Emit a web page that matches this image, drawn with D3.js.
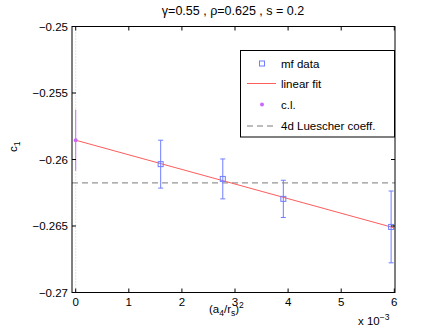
<!DOCTYPE html>
<html>
<head>
<meta charset="utf-8">
<script src="https://cdn.jsdelivr.net/npm/d3@7"></script>
<style>
body { margin: 0; background: #fff; }
text { font-family: "Liberation Sans", Arial, sans-serif; fill: #000; }
</style>
</head>
<body>
<svg id="chart" width="436" height="330"></svg>
<script>
// data
var mfX = [1.60e-3, 2.77e-3, 3.91e-3, 5.94e-3];
var mfY = [-0.26035, -0.26146, -0.26296, -0.26507];
var mfErr = [0.0018, 0.0015, 0.0014, 0.0027];
var clX = [0];
var clY = [-0.25855];
var clErr = [0.0023];
var fitX = [0, 6e-3];
var fitY = [-0.25855, -0.26514];
var luescher = -0.26176;
var xTicks = [0, 1e-3, 2e-3, 3e-3, 4e-3, 5e-3, 6e-3];
var yTicks = [-0.25, -0.255, -0.26, -0.265, -0.27];
var legendLabels = ["mf data", "linear fit", "c.l.", "4d Luescher coeff."];

var svg = d3.select("#chart");
var pL = 72, pR = 395, pT = 26.5, pB = 292.5;

var x = d3.scaleLinear().domain([-0.07e-3, 6e-3]).range([pL, pR - 0.7]);
var y = d3.scaleLinear().domain([-0.27, -0.25]).range([pB, pT]);

var blue = "#6f7dff", redCol = "#ff5c5c", mag = "#cc66ff", grey = "#7a7a7a";

// dotted zero line
svg.append("line")
  .attr("x1", x(0)).attr("x2", x(0)).attr("y1", pT).attr("y2", pB)
  .attr("stroke", "#c8c8c8").attr("stroke-width", 1).attr("stroke-dasharray", "1,2");

// dashed Luescher line
svg.append("line")
  .attr("x1", pL).attr("x2", pR).attr("y1", y(luescher)).attr("y2", y(luescher))
  .attr("stroke", grey).attr("stroke-width", 1).attr("stroke-dasharray", "6,4");

// fit line
var line = d3.line().x(function(d) { return x(d[0]); }).y(function(d) { return y(d[1]); });
svg.append("path")
  .attr("d", line(d3.zip(fitX, fitY)))
  .attr("stroke", redCol).attr("fill", "none").attr("stroke-width", 1);

function errorBars(xs, ys, es, col, w) {
  var g = svg.append("g").attr("stroke", col).attr("stroke-width", 1).attr("fill", "none");
  for (var i = 0; i < xs.length; i++) {
    var cx = x(xs[i]), t = y(ys[i] + es[i]), b = y(ys[i] - es[i]);
    g.append("line").attr("x1", cx).attr("x2", cx).attr("y1", t).attr("y2", b);
    if (w > 0) {
      g.append("line").attr("x1", cx - w).attr("x2", cx + w).attr("y1", t).attr("y2", t);
      g.append("line").attr("x1", cx - w).attr("x2", cx + w).attr("y1", b).attr("y2", b);
    }
  }
}
errorBars(mfX, mfY, mfErr, blue, 2.5);
errorBars(clX, clY, clErr, mag, 0);

// markers
svg.selectAll(".mf").data(d3.zip(mfX, mfY)).enter().append("rect")
  .attr("x", function(d) { return x(d[0]) - 2.5; })
  .attr("y", function(d) { return y(d[1]) - 2.5; })
  .attr("width", 5).attr("height", 5)
  .attr("fill", "none").attr("stroke", blue).attr("stroke-width", 1);

svg.selectAll(".cl").data(d3.zip(clX, clY)).enter().append("circle")
  .attr("cx", function(d) { return x(d[0]); })
  .attr("cy", function(d) { return y(d[1]); })
  .attr("r", 2).attr("fill", mag);

// frame and ticks (MATLAB style box)
svg.append("rect")
  .attr("x", pL).attr("y", pT).attr("width", pR - pL).attr("height", pB - pT)
  .attr("fill", "none").attr("stroke", "#000").attr("stroke-width", 1);

var tl = 4;
var ax = svg.append("g").attr("stroke", "#000").attr("stroke-width", 1);
xTicks.forEach(function(t) {
  ax.append("line").attr("x1", x(t)).attr("x2", x(t)).attr("y1", pB).attr("y2", pB - tl);
  ax.append("line").attr("x1", x(t)).attr("x2", x(t)).attr("y1", pT).attr("y2", pT + tl);
});
yTicks.forEach(function(t) {
  ax.append("line").attr("x1", pL).attr("x2", pL + tl).attr("y1", y(t)).attr("y2", y(t));
  ax.append("line").attr("x1", pR).attr("x2", pR - tl).attr("y1", y(t)).attr("y2", y(t));
});

svg.selectAll(".xt").data(xTicks).enter().append("text")
  .attr("x", function(d) { return x(d); }).attr("y", pB + 13.5)
  .attr("text-anchor", "middle").attr("font-size", 11.5)
  .text(function(d) { return Math.round(d * 1000); });

svg.selectAll(".yt").data(yTicks).enter().append("text")
  .attr("x", pL - 4).attr("y", function(d) { return y(d) + 4; })
  .attr("text-anchor", "end").attr("font-size", 11.5)
  .text(function(d) { return d3.format(".3~f")(d).replace("-", "\u2212"); });

// title
svg.append("text").attr("x", 233).attr("y", 15).attr("text-anchor", "middle").attr("font-size", 12.5)
  .text("\u03b3=0.55 , \u03c1=0.625 , s = 0.2");

// axis labels (start-anchored so the sub/superscript tspans do not collide)
var xl = svg.append("text").attr("x", 209).attr("y", 313).attr("font-size", 11.5);
xl.append("tspan").text("(a");
xl.append("tspan").attr("dy", 3).attr("font-size", 8.5).text("4");
xl.append("tspan").attr("dy", -3).text("/r");
xl.append("tspan").attr("dy", 3).attr("font-size", 8.5).text("s");
xl.append("tspan").attr("dy", -3).text(")");
xl.append("tspan").attr("dy", -5).attr("font-size", 8.5).text("2");

var ex = svg.append("text").attr("x", 358).attr("y", 325).attr("font-size", 11.5);
ex.append("tspan").text("x 10");
ex.append("tspan").attr("dy", -5).attr("font-size", 8.5).text("\u22123");

var yl = svg.append("text").attr("transform", "translate(17,152) rotate(-90)").attr("font-size", 11.5);
yl.append("tspan").text("c");
yl.append("tspan").attr("dy", 3).attr("font-size", 8.5).text("1");

// legend
var lg = svg.append("g");
lg.append("rect").attr("x", 240.5).attr("y", 50.5).attr("width", 154).attr("height", 86.5)
  .attr("fill", "#fff").attr("stroke", "#000").attr("stroke-width", 1);
var rowY = [63.5, 83.5, 104.5, 126];
legendLabels.forEach(function(lab, i) {
  lg.append("text").attr("x", 281).attr("y", rowY[i] + 4).attr("font-size", 11.5).text(lab);
});
lg.append("rect").attr("x", 259.5).attr("y", rowY[0] - 2.5).attr("width", 5).attr("height", 5)
  .attr("fill", "none").attr("stroke", blue);
lg.append("line").attr("x1", 247).attr("x2", 276).attr("y1", rowY[1]).attr("y2", rowY[1])
  .attr("stroke", redCol);
lg.append("circle").attr("cx", 262).attr("cy", rowY[2]).attr("r", 2).attr("fill", mag);
lg.append("line").attr("x1", 247).attr("x2", 276).attr("y1", rowY[3]).attr("y2", rowY[3])
  .attr("stroke", grey).attr("stroke-dasharray", "6,4");
</script>
</body>
</html>
